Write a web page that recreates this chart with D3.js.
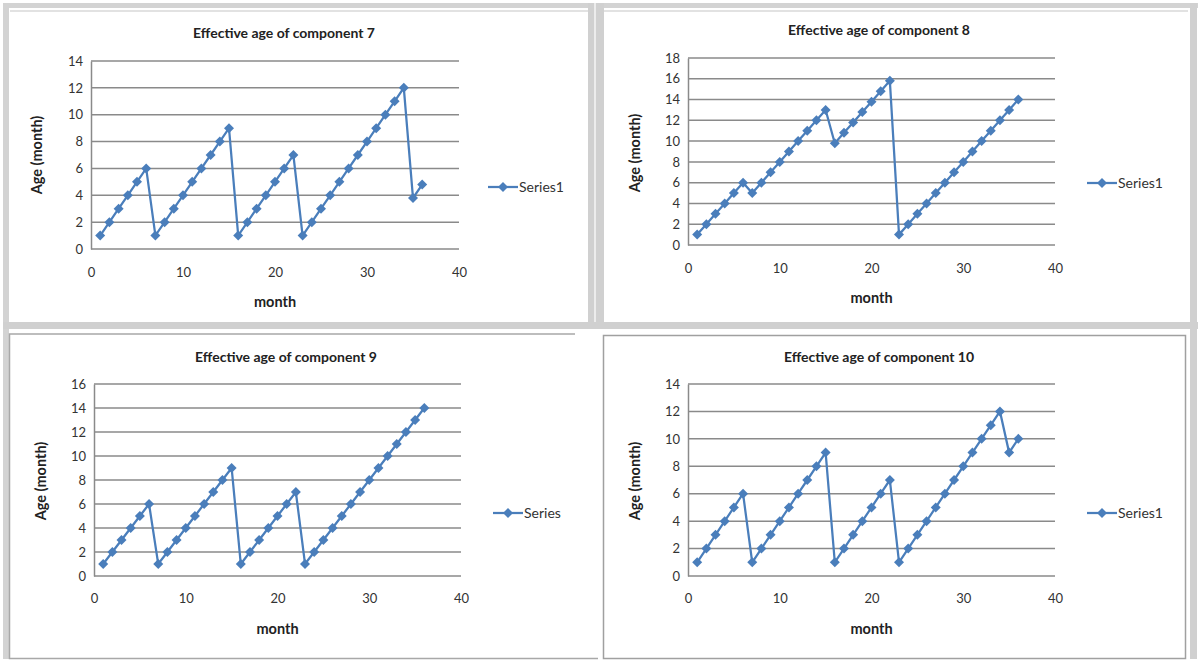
<!DOCTYPE html>
<html>
<head>
<meta charset="utf-8">
<script src="https://cdn.jsdelivr.net/npm/d3@7"></script>
<style>
body { margin:0; background:#fff; }
svg text { font-family: Lato, "Open Sans", sans-serif; fill:#222; }
.title { font-weight:bold; font-size:14px; }
.label { font-weight:bold; font-size:14.5px; }
.tick text { font-size:13px; fill:#333; }
.legend text { font-size:14px; fill:#333; }
</style>
</head>
<body>
<svg id="chart"></svg>
<script>
// months on the x axis
var months = [1,2,3,4,5,6,7,8,9,10,11,12,13,14,15,16,17,18,19,20,21,22,23,24,25,26,27,28,29,30,31,32,33,34,35,36];

// effective age per component (month)
var age7  = [1,2,3,4,5,6,1,2,3,4,5,6,7,8,9,1,2,3,4,5,6,7,1,2,3,4,5,6,7,8,9,10,11,12,3.8,4.8];
var age8  = [1,2,3,4,5,6,5,6,7,8,9,10,11,12,13,9.8,10.8,11.8,12.8,13.8,14.8,15.8,1,2,3,4,5,6,7,8,9,10,11,12,13,14];
var age9  = [1,2,3,4,5,6,1,2,3,4,5,6,7,8,9,1,2,3,4,5,6,7,1,2,3,4,5,6,7,8,9,10,11,12,13,14];
var age10 = [1,2,3,4,5,6,1,2,3,4,5,6,7,8,9,1,2,3,4,5,6,7,1,2,3,4,5,6,7,8,9,10,11,12,9,10];

var titles = ["Effective age of component 7","Effective age of component 8","Effective age of component 9","Effective age of component 10"];
var seriesNames = ["Series1","Series1","Series","Series1"];
var yMaxes = [14,18,16,14];
var xTicks = [0,10,20,30,40];

var screen = {width:1200,height:662}

// where each chart sits in the picture
var layouts = [
    {cx:284, left:91,  right:459,  top:61,  bottom:249, titleY:38,  xlabY:277, monthY:307, ageX:37,  ageY:155, legX:488,  legY:187},
    {cx:879, left:688, right:1055, top:58,  bottom:245, titleY:35,  xlabY:273, monthY:303, ageX:635, ageY:153, legX:1087, legY:183},
    {cx:286, left:94,  right:461,  top:384, bottom:576, titleY:362, xlabY:603, monthY:634, ageX:41,  ageY:481, legX:493,  legY:513},
    {cx:879, left:688, right:1055, top:384, bottom:576, titleY:362, xlabY:603, monthY:634, ageX:635, ageY:481, legX:1087, legY:513}
]

var svg = d3.select("#chart")
    .attr("width",screen.width)
    .attr("height",screen.height)

var drawFrames = function()
{
    var f = svg.append("g").classed("frames",true)
    // top-left window
    f.append("rect").attr("x",3).attr("y",3).attr("width",1195).attr("height",5).attr("fill","#d3d3d3")
    f.append("rect").attr("x",10).attr("y",10).attr("width",580).attr("height",2).attr("fill","#e2e2e2")
    f.append("rect").attr("x",3).attr("y",3).attr("width",6).attr("height",656).attr("fill","#d3d3d3")
    // separators
    f.append("rect").attr("x",588).attr("y",3).attr("width",16).attr("height",324).attr("fill","#d0d0d0")
    f.append("rect").attr("x",594).attr("y",3).attr("width",2).attr("height",320).attr("fill","#ececec")
    f.append("rect").attr("x",3).attr("y",322).attr("width",1195).attr("height",7).attr("fill","#d0d0d0")
    f.append("rect").attr("x",1190).attr("y",3).attr("width",7).attr("height",656).attr("fill","#d0d0d0")
    f.append("rect").attr("x",604).attr("y",10).attr("width",584).attr("height",2).attr("fill","#e2e2e2")
    // bottom-left chart border
    f.append("path").attr("d","M575,334H9.5V658.5H598")
        .attr("fill","none").attr("stroke","#a8a8a8").attr("stroke-width",1.5)
    // bottom-right chart border
    f.append("rect").attr("x",603.5).attr("y",335.5).attr("width",582).attr("height",323)
        .attr("fill","none").attr("stroke","#a0a0a0").attr("stroke-width",1.5)
}

var drawChart = function(values,index)
{
    var lay = layouts[index]
    var yMax = yMaxes[index]
    var g = svg.append("g").classed("chart",true)

    var xScale = d3.scaleLinear()
        .domain([0,40])
        .range([lay.left,lay.right])
    var yScale = d3.scaleLinear()
        .domain([0,yMax])
        .range([lay.bottom,lay.top])

    var yTicks = d3.range(0,yMax+1,2)

    // gridlines
    g.append("g").selectAll("line")
        .data(yTicks)
        .enter()
        .append("line")
        .attr("x1",lay.left)
        .attr("x2",lay.right)
        .attr("y1",function(d){return yScale(d)})
        .attr("y2",function(d){return yScale(d)})
        .attr("stroke","#8a8a8a")
        .attr("stroke-width",1.5)

    var yAxis = d3.axisLeft(yScale).tickValues(yTicks).tickSize(0).tickPadding(8)
    g.append("g")
        .attr("transform","translate("+lay.left+",0)")
        .call(yAxis)
        .call(function(a){a.select(".domain").attr("stroke","#8a8a8a").attr("stroke-width",1.5)})

    var xAxis = d3.axisBottom(xScale).tickValues(xTicks).tickSize(0).tickPadding(0)
    var xg = g.append("g")
        .attr("transform","translate(0,"+lay.bottom+")")
        .call(xAxis)
    xg.select(".domain").remove()
    xg.selectAll(".tick text").attr("y",lay.xlabY-lay.bottom).attr("dy",0)

    // labels
    g.append("text").classed("title",true)
        .attr("text-anchor","middle")
        .attr("x",lay.cx).attr("y",lay.titleY)
        .text(titles[index])
    g.append("text").classed("label",true)
        .attr("text-anchor","middle")
        .attr("x",(lay.left+lay.right)/2).attr("y",lay.monthY)
        .text("month")
    g.append("text").classed("label",true)
        .attr("text-anchor","middle")
        .attr("transform","translate("+lay.ageX+","+lay.ageY+") rotate(270)")
        .attr("dy","0.35em")
        .text("Age (month)")

    // the series
    var pts = months.map(function(m,i){return {m:m,v:values[i]}})
    var line = d3.line()
        .x(function(d){return xScale(d.m)})
        .y(function(d){return yScale(d.v)})
    g.append("path")
        .datum(pts)
        .attr("d",line)
        .attr("fill","none")
        .attr("stroke","#4a7ebb")
        .attr("stroke-width",2.25)

    var diamond = d3.symbol().type(d3.symbolSquare).size(50)
    g.append("g").selectAll("path")
        .data(pts)
        .enter()
        .append("path")
        .attr("d",diamond)
        .attr("fill","#4a7ebb")
        .attr("transform",function(d){return "translate("+xScale(d.m)+","+yScale(d.v)+") rotate(45)"})

    // legend
    var legend = g.append("g").classed("legend",true)
        .attr("transform","translate("+lay.legX+","+lay.legY+")")
    legend.append("line")
        .attr("x1",0).attr("x2",30)
        .attr("stroke","#4a7ebb").attr("stroke-width",2.25)
    legend.append("path")
        .attr("d",diamond)
        .attr("fill","#4a7ebb")
        .attr("transform","translate(15,0) rotate(45)")
    legend.append("text")
        .attr("x",31).attr("dy","0.35em")
        .text(seriesNames[index])
}

drawFrames()
drawChart(age7,0)
drawChart(age8,1)
drawChart(age9,2)
drawChart(age10,3)
</script>
</body>
</html>
